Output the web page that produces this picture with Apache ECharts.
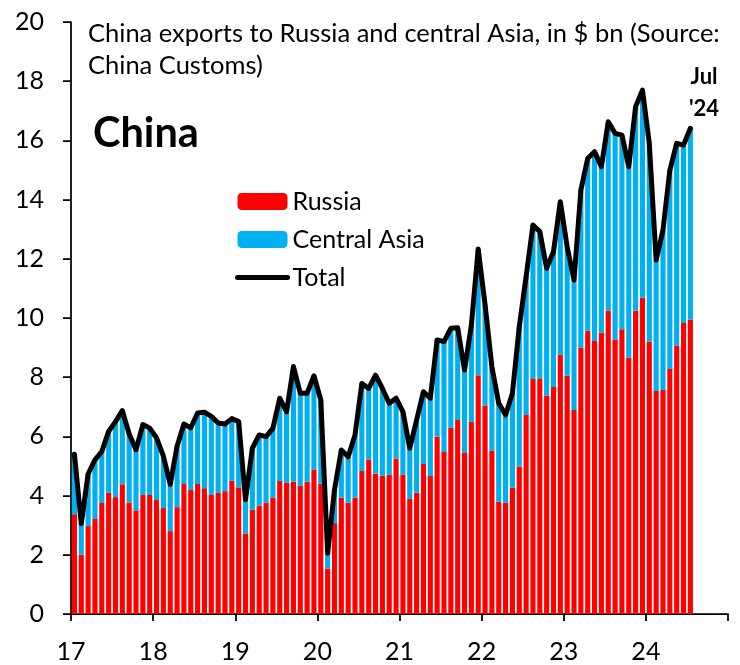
<!DOCTYPE html>
<html>
<head>
<meta charset="utf-8">
<script src="https://cdn.jsdelivr.net/npm/echarts@6/dist/echarts.min.js"></script>
<style>
html,body{margin:0;padding:0;background:#fff;}
#chart{width:740px;height:665px;}
</style>
</head>
<body>
<div id="chart"></div>
<script>
// Year tick labels (one per year on the x axis, 2017..2024)
var yearLabels = ['17','18','19','20','21','22','23','24'];
var monthNames = ['Jan','Feb','Mar','Apr','May','Jun','Jul','Aug','Sep','Oct','Nov','Dec'];

// China exports to Russia, $ bn, Jan 2017 .. Jul 2024
var russia = [
  3.37, 2.00, 2.97, 3.21, 3.75, 4.09, 3.95, 4.38, 3.77, 3.50, 4.02, 4.02,
  3.85, 3.58, 2.80, 3.61, 4.39, 4.19, 4.39, 4.25, 4.02, 4.09, 4.15, 4.50,
  4.28, 2.72, 3.52, 3.66, 3.76, 3.94, 4.49, 4.44, 4.47, 4.34, 4.47, 4.88,
  4.40, 1.54, 3.07, 3.93, 3.76, 3.93, 4.83, 5.22, 4.74, 4.67, 4.70, 5.25,
  4.71, 3.89, 4.10, 5.07, 4.66, 5.99, 5.47, 6.29, 6.55, 5.44, 6.49, 8.07,
  7.04, 5.52, 3.79, 3.76, 4.27, 4.98, 6.72, 7.94, 7.94, 7.38, 7.67, 8.76,
  8.05, 6.89, 9.00, 9.57, 9.22, 9.50, 10.25, 9.27, 9.62, 8.66, 10.25, 10.69,
  9.20, 7.53, 7.57, 8.28, 9.06, 9.83, 9.94
];

// China exports to central Asia, $ bn
var centralAsia = [
  2.03, 1.05, 1.76, 2.00, 1.74, 2.08, 2.55, 2.49, 2.31, 2.05, 2.38, 2.26,
  2.10, 1.75, 1.58, 2.06, 2.03, 2.10, 2.40, 2.57, 2.66, 2.36, 2.27, 2.10,
  2.22, 1.14, 2.08, 2.39, 2.23, 2.33, 2.80, 2.39, 3.89, 3.12, 2.99, 3.17,
  2.83, 0.51, 1.12, 1.61, 1.55, 2.12, 2.96, 2.40, 3.33, 2.95, 2.42, 2.04,
  2.12, 1.71, 2.45, 2.44, 2.63, 3.27, 3.73, 3.36, 3.12, 2.80, 3.27, 4.26,
  3.41, 2.83, 3.33, 2.96, 3.19, 4.72, 4.68, 5.20, 4.98, 4.30, 4.57, 5.17,
  4.35, 4.39, 5.32, 5.82, 6.40, 5.61, 6.38, 6.97, 6.56, 6.45, 6.89, 7.01,
  6.70, 4.43, 5.40, 6.71, 6.84, 6.01, 6.47
];

// Total exports, $ bn
var total = [
  5.40, 3.05, 4.73, 5.21, 5.49, 6.17, 6.50, 6.87, 6.08, 5.55, 6.40, 6.28,
  5.95, 5.33, 4.38, 5.67, 6.42, 6.29, 6.79, 6.82, 6.68, 6.45, 6.42, 6.60,
  6.50, 3.86, 5.60, 6.05, 5.99, 6.27, 7.29, 6.83, 8.36, 7.46, 7.46, 8.05,
  7.23, 2.05, 4.19, 5.54, 5.31, 6.05, 7.79, 7.62, 8.07, 7.62, 7.12, 7.29,
  6.83, 5.60, 6.55, 7.51, 7.29, 9.26, 9.20, 9.65, 9.67, 8.24, 9.76, 12.33,
  10.45, 8.35, 7.12, 6.72, 7.46, 9.70, 11.40, 13.14, 12.92, 11.68, 12.24, 13.93,
  12.40, 11.28, 14.32, 15.39, 15.62, 15.11, 16.63, 16.24, 16.18, 15.11, 17.14, 17.70,
  15.90, 11.96, 12.97, 14.99, 15.90, 15.84, 16.41
];

// Month categories Jan 2017 .. Dec 2024 (axis runs to end of 2024)
var categories = [];
yearLabels.forEach(function (y) {
  monthNames.forEach(function (m) { categories.push(m + ' ' + y); });
});

var FONT = 'Lato';
var chart = echarts.init(document.getElementById('chart'), null, {renderer: 'canvas'});
var catW = 657 / categories.length;

chart.setOption({
  animation: false,
  backgroundColor: '#ffffff',
  textStyle: {fontFamily: FONT, color: '#000'},
  grid: {left: 71, right: 12, top: 22, bottom: 51, containLabel: false},
  legend: {
    orient: 'vertical',
    left: 235, top: 189,
    itemWidth: 50, itemHeight: 17, itemGap: 13,
    padding: 0,
    textStyle: {fontFamily: FONT, fontSize: 25, color: '#000'},
    data: [
      'Russia',
      'Central Asia',
      {name: 'Total', itemStyle: {opacity: 0}, lineStyle: {width: 5, color: '#000', opacity: 1}}
    ]
  },
  graphic: [
    {type: 'text', x: 88, y: 34, style: {text: 'China exports to Russia and central Asia, in $ bn (Source:', font: '25.5px ' + FONT, fill: '#000', verticalAlign: 'middle'}},
    {type: 'text', x: 88, y: 65.5, style: {text: 'China Customs)', font: '25.5px ' + FONT, fill: '#000', verticalAlign: 'middle'}},
    {type: 'text', x: 93, y: 133.5, style: {text: 'China', font: 'bold 41.5px ' + FONT, fill: '#000', verticalAlign: 'middle'}},
    {type: 'text', x: 704, y: 77, style: {text: 'Jul', font: 'bold 22px ' + FONT, fill: '#000', align: 'center', verticalAlign: 'middle'}},
    {type: 'text', x: 704, y: 109, style: {text: "'24", font: 'bold 22px ' + FONT, fill: '#000', align: 'center', verticalAlign: 'middle'}}
  ],
  xAxis: {
    type: 'category',
    data: categories,
    boundaryGap: true,
    axisLine: {show: true, lineStyle: {color: '#000', width: 1.75}},
    axisTick: {
      show: true, length: 7,
      interval: function (i) { return i % 12 === 0; },
      lineStyle: {color: '#000', width: 1.75}
    },
    axisLabel: {
      interval: function (i) { return i % 12 === 0; },
      formatter: function (v, i) { return yearLabels[Math.floor(i / 12)]; },
      fontFamily: FONT, fontSize: 25, color: '#000',
      margin: 25,
      padding: [0, catW, 0, 0]
    },
    splitLine: {show: false}
  },
  yAxis: {
    type: 'value',
    min: 0, max: 20, interval: 2,
    axisLine: {show: true, lineStyle: {color: '#000', width: 1.75}},
    axisTick: {show: true, length: 8, lineStyle: {color: '#000', width: 1.75}},
    axisLabel: {fontFamily: FONT, fontSize: 25, color: '#000', margin: 27},
    splitLine: {show: false}
  },
  series: [
    {
      name: 'Russia', type: 'bar', stack: 'exp', data: russia,
      barCategoryGap: '25%',
      itemStyle: {color: '#FF0000'}
    },
    {
      name: 'Central Asia', type: 'bar', stack: 'exp', data: centralAsia,
      barCategoryGap: '25%',
      itemStyle: {color: '#00B0F0'}
    },
    {
      name: 'Total', type: 'line', data: total,
      symbol: 'none', showSymbol: false,
      lineStyle: {color: '#000', width: 5, cap: 'round', join: 'round'},
      itemStyle: {color: '#000'},
      z: 5
    }
  ]
});
</script>
</body>
</html>
